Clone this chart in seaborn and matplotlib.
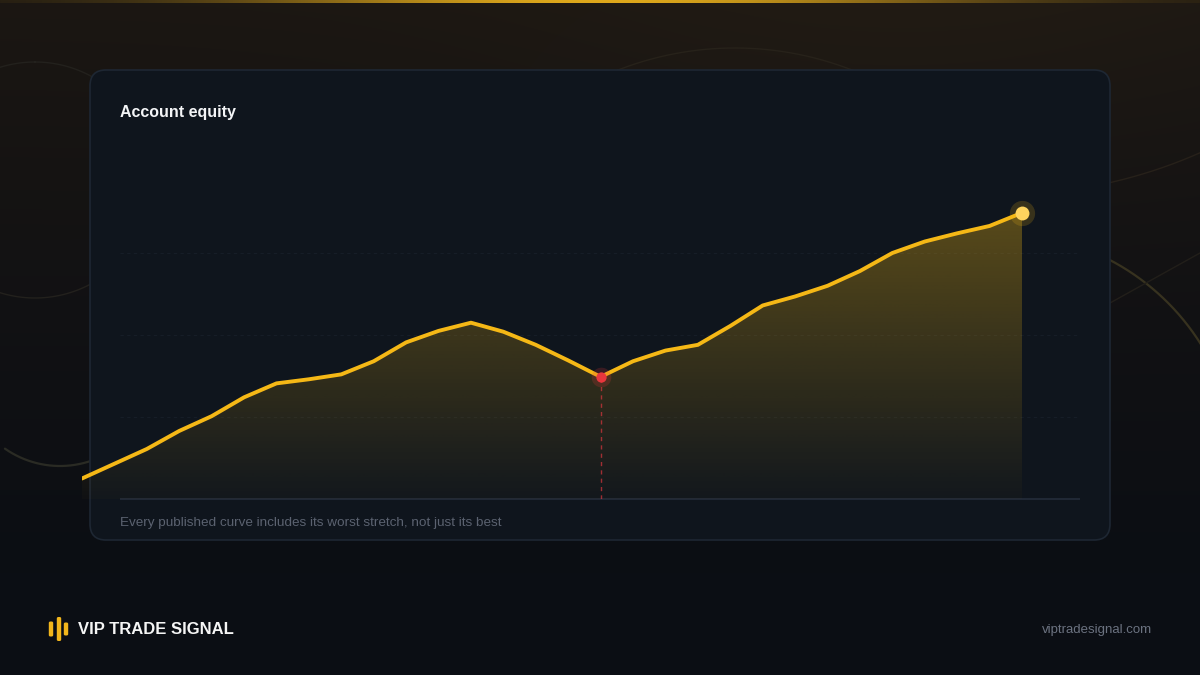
import numpy as np
import pandas as pd
import matplotlib
matplotlib.use("Agg")
import matplotlib.pyplot as plt
import seaborn as sns
from matplotlib.patches import FancyBboxPatch
from matplotlib.colors import to_rgb

sns.set_theme(style="white")
plt.rcParams['font.family'] = ['Liberation Sans', 'DejaVu Sans']

# data
day = list(range(1, 31))
equity = [10250, 10430, 10610, 10830, 11010, 11240, 11410, 11460, 11520, 11680,
          11910, 12050, 12150, 12040, 11880, 11690, 11490, 11680, 11810, 11880,
          12110, 12360, 12470, 12600, 12780, 13000, 13140, 13240, 13330, 13490]
grid_levels = [11000, 12000, 13000]
y_floor, y_top = 10000, 14000

title = "Account equity"
caption = "Every published curve includes its worst stretch, not just its best"
brand = "VIP TRADE SIGNAL"
url = "viptradesignal.com"

df = pd.DataFrame({"day": day, "equity": equity})
# worst drawdown trough
dd = df["equity"] / df["equity"].cummax() - 1
i_low = int(dd.idxmin())
low_day, low_val = df.loc[i_low, "day"], df.loc[i_low, "equity"]
end_day, end_val = df["day"].iloc[-1], df["equity"].iloc[-1]

GOLD = "#f5b816"

fig = plt.figure(figsize=(12, 6.75), dpi=100)

# ---- background canvas in pixel units
bg = fig.add_axes([0, 0, 1, 1])
bg.set_xlim(0, 1200)
bg.set_ylim(675, 0)
bg.axis("off")

yy = np.linspace(0, 1, 675)[:, None]
xx = np.linspace(0, 1, 1200)[None, :]
top_c = np.array(to_rgb("#1c1712"))
bot_c = np.array(to_rgb("#0b0e14"))
t = np.clip(yy / 0.85, 0, 1) ** 0.8
img = top_c * (1 - t[..., None]) + bot_c * t[..., None]
img = img * np.ones((675, 1200, 1))
warm = np.array(to_rgb("#231c14")) - top_c
glow = np.exp(-((xx - 0.75) ** 2) / 0.12 - (yy ** 2) / 0.08)
img = np.clip(img + warm * glow[..., None] * 0.8, 0, 1)
bg.imshow(img, extent=[0, 1200, 675, 0], aspect="auto", zorder=0)

# thin gold strip at top
strip = np.zeros((1, 1200, 4))
strip[..., :3] = to_rgb("#e0a91c")
strip[..., 3] = np.exp(-((np.linspace(0, 1, 1200) - 0.5) ** 2) / 0.09)
bg.imshow(strip, extent=[0, 1200, 3, 0], aspect="auto", zorder=1)


def ring(cx, cy, r, a0, a1, **kw):
    a = np.radians(np.linspace(a0, a1, 200))
    bg.plot(cx + r * np.cos(a), cy + r * np.sin(a), zorder=1, **kw)


# faint decorative arcs (angles measured with y pointing down)
ring(35, 180, 118, -90, 270, color="#23211d", lw=1.0)
ring(60, 370, 96, 40, 125, color="#2a2b24", lw=1.6)
ring(735, 370, 322, 235, 305, color="#27221a", lw=1.0)
ring(1000, 470, 237, -70, -25, color="#37321f", lw=1.6)
ring(1000, -300, 495, 60, 80, color="#27211a", lw=1.0)
bg.plot([1110, 1200], [303, 253], color="#221f1a", lw=1.0, zorder=1)

# card
card = FancyBboxPatch((90, 70), 1020, 470, boxstyle="round,pad=0,rounding_size=16",
                      fc="#0f151d", ec="#1e2733", lw=1.2, zorder=2)
bg.add_patch(card)

bg.text(120, 112, title, color="#f3f4f6", fontsize=11.5, fontweight="bold",
        va="center", ha="left", zorder=3)
bg.text(120, 523, caption, color="#5b6270", fontsize=9.7, va="center", ha="left", zorder=3)

# brand mark
for bx, h in zip([51, 59, 66], [15, 24, 13]):
    bg.add_patch(FancyBboxPatch((bx - 2.2, 629 - h / 2), 4.4, h,
                                boxstyle="round,pad=0,rounding_size=1.5",
                                fc="#f2b61c", ec="none", zorder=3))
bg.text(78, 630, brand, color="#f5f5f5", fontsize=12, fontweight="bold",
        va="center", ha="left", zorder=3)
bg.text(1152, 630, url, color="#6b7280", fontsize=9.5, va="center", ha="right", zorder=3)

# ---- chart axes
px_per_day = 940 / 29
left_px, right_px, base_px, top_px = 82, 1080, 499, 171
ax = fig.add_axes([left_px / 1200, 1 - base_px / 675,
                   (right_px - left_px) / 1200, (base_px - top_px) / 675])
ax.set_facecolor("none")
x0 = day[0]
xmax = x0 + (right_px - left_px) / px_per_day

grid_start = x0 + (120 - left_px) / px_per_day
ax.hlines(grid_levels, grid_start, xmax, color="#161d27", lw=0.8,
          linestyles=(0, (3, 3)), zorder=1)
ax.hlines([y_floor], grid_start, xmax, color="#222b38", lw=1.3,
          zorder=1, clip_on=False)

# gradient fill under the curve
poly = ax.fill_between(df["day"], df["equity"], y_floor, color="none", lw=0)
grad = np.zeros((256, 2, 4))
grad[..., :3] = to_rgb("#f0b814")
grad[..., 3] = np.linspace(0.33, 0.02, 256)[:, None]
fill_img = ax.imshow(grad, extent=[day[0], day[-1], y_floor, end_val], aspect="auto",
                     origin="upper", zorder=2)
fill_img.set_clip_path(poly.get_paths()[0], ax.transData)

sns.lineplot(data=df, x="day", y="equity", color=GOLD, lw=2.8, ax=ax, zorder=4,
             solid_joinstyle="round")

# drawdown low
ax.vlines(low_day, y_floor, low_val, color="#d9363e", lw=1.0, alpha=0.7,
          linestyles=(0, (3, 3)), zorder=3)
ax.scatter([low_day], [low_val], s=200, color="#e5383b", alpha=0.2, lw=0, zorder=5)
ax.scatter([low_day], [low_val], s=55, color="#e8363d", lw=0, zorder=6)

# latest point
ax.scatter([end_day], [end_val], s=330, color="#f5b816", alpha=0.18, lw=0, zorder=5)
ax.scatter([end_day], [end_val], s=100, color="#ffd45e", lw=0, zorder=6)

ax.set_xlim(x0, xmax)
ax.set_ylim(y_floor, y_top)
ax.axis("off")

fig.savefig("out.png", dpi=100)
